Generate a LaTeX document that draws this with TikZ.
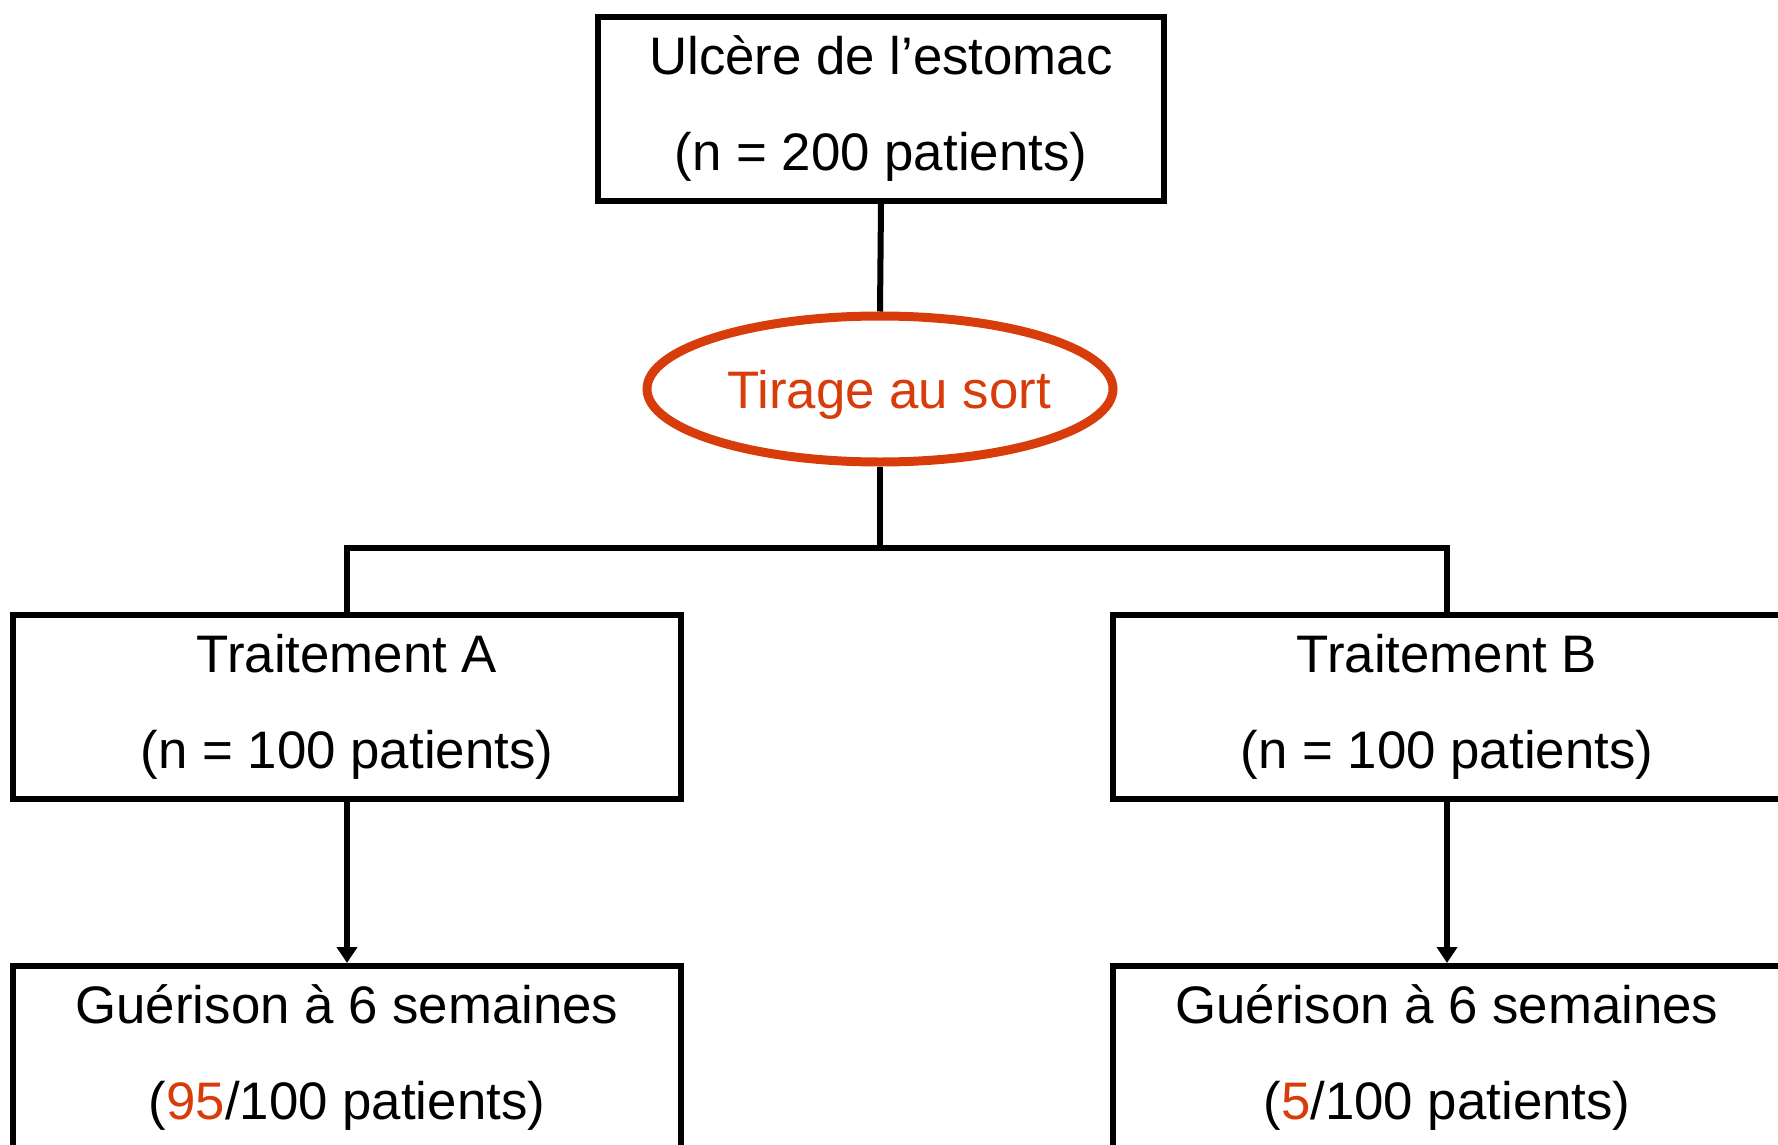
\documentclass[tikz,border=0pt]{standalone}
\usepackage{fontspec}
\setmainfont{Liberation Sans}
\usetikzlibrary{shapes.geometric,arrows.meta}
\definecolor{accent}{RGB}{215,60,10}
\begin{document}
\begin{tikzpicture}[x=0.5pt,y=-0.5pt,
  box/.style={draw=black,line width=3pt,rectangle,inner sep=0pt,
    minimum width=#1,minimum height=92pt,align=center,
    font=\fontsize{26.4}{48}\selectfont},
  box/.default=334pt,
  oval/.style={draw=accent,line width=4.5pt,ellipse,inner sep=0pt,
    minimum width=233pt,minimum height=73pt,text=accent,
    font=\fontsize{26.4}{32}\selectfont},
  conn/.style={draw=black,line width=3pt},
  arr/.style={conn,-{Triangle[length=8pt,width=10pt]}}
]
\useasboundingbox (0,0) rectangle (1778,1145);
\node[box=283pt] (top) at (881,109) {Ulcère de l’estomac\\(n = 200 patients)};
\node[oval] (ell) at (880,389) {\raisebox{-2.8pt}[19pt][5.5pt]{\hspace*{4.5pt}Tirage au sort\hspace*{-4.5pt}}};
\coordinate (J) at (880,548);
\node[box] (A) at (347,707) {Traitement A\\(n = 100 patients)};
\node[box] (B) at (1447,707) {Traitement B\\(n = 100 patients)};
\node[box] (GA) at (347,1058) {Guérison à 6 semaines\\(\textcolor{accent}{95}/100 patients)};
\node[box] (GB) at (1447,1058) {Guérison à 6 semaines\\(\textcolor{accent}{5}/100 patients)};
\draw[conn] (top.south) -- (ell.north);
\draw[conn] (ell.south) -- (J);
\draw[conn] (A.north) |- (J) -| (B.north);
\draw[arr] (A.south) -- (GA.north);
\draw[arr] (B.south) -- (GB.north);
\end{tikzpicture}
\end{document}
